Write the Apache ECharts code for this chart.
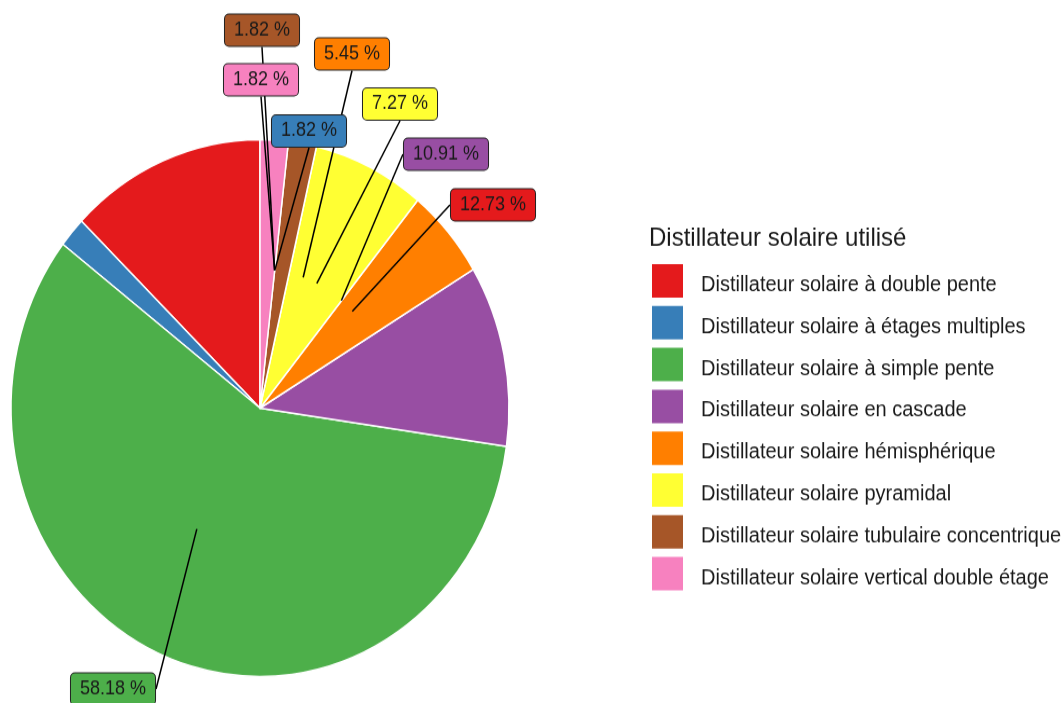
<!DOCTYPE html>
<html>
<head>
<meta charset="utf-8">
<script src="https://cdn.jsdelivr.net/npm/echarts@6/dist/echarts.min.js"></script>
<style>
  html { margin: 0; padding: 0; background: #fff; overflow: hidden; }
  body { margin: 0; padding: 0; background: #fff; width: 1063px; height: 703px; }
  #chart { width: 1063px; height: 652px; transform: scaleY(1.0782); transform-origin: 0 0; }
</style>
</head>
<body>
<div id="chart"></div>
<script>
// ---- data ----
const categories = [
  'Distillateur solaire à double pente',
  'Distillateur solaire à étages multiples',
  'Distillateur solaire à simple pente',
  'Distillateur solaire en cascade',
  'Distillateur solaire hémisphérique',
  'Distillateur solaire pyramidal',
  'Distillateur solaire tubulaire concentrique',
  'Distillateur solaire vertical double étage'
];
const percentages = [12.73, 1.82, 58.18, 10.91, 5.45, 7.27, 1.82, 1.82];
const legendTitle = 'Distillateur solaire utilisé';

// ---- styling / layout (not data) ----
const colors = ['#E41A1C', '#377EB8', '#4DAF4A', '#984EA3', '#FF7F00', '#FFFF33', '#A65628', '#F781BF'];
const FONT = '"Liberation Sans", Arial, sans-serif';
const CENTER = [260, 378.5];
const RADIUS = 249;
// repelled label box centres (px, unscaled)
const labelBoxes = [
  [493, 190], [309, 121.5], [113, 639], [446, 143],
  [352, 50], [400, 96.5], [262, 28], [261, 74]
];
const anchorRadius = 0.515;

const chart = echarts.init(document.getElementById('chart'), null, { renderer: 'canvas' });

const pieData = categories.map((c, i) => ({
  name: c, value: percentages[i], itemStyle: { color: colors[i] }
}));

const labelData = categories.map((c, i) => ({
  name: c,
  value: [anchorRadius, percentages[i]],
  label: { backgroundColor: colors[i] }
}));

chart.setOption({
  animation: false,
  backgroundColor: '#fff',
  title: {
    text: legendTitle,
    left: 649, top: 209, padding: 0,
    textStyle: { fontFamily: FONT, fontSize: 24, fontWeight: 'normal', color: '#1a1a1a' }
  },
  legend: {
    orient: 'vertical',
    left: 650, top: 243, padding: 0,
    itemWidth: 33, itemHeight: 33, itemGap: 3.8,
    icon: 'rect',
    selectedMode: false,
    data: categories,
    formatter: '{t|{name}}',
    textStyle: {
      fontFamily: FONT, fontSize: 20, color: '#1a1a1a',
      rich: { t: { fontFamily: FONT, fontSize: 20, lineHeight: 22, color: '#1a1a1a', padding: [8, 0, 0, 12] } }
    }
  },
  polar: { center: CENTER, radius: RADIUS },
  angleAxis: {
    type: 'value', min: 0, max: 100, startAngle: 90, clockwise: true,
    axisLine: { show: false }, axisTick: { show: false }, axisLabel: { show: false }, splitLine: { show: false }
  },
  radiusAxis: {
    type: 'value', min: 0, max: 1,
    axisLine: { show: false }, axisTick: { show: false }, axisLabel: { show: false }, splitLine: { show: false }
  },
  series: [
    {
      type: 'pie',
      center: CENTER,
      radius: RADIUS,
      startAngle: 90,
      clockwise: false,
      avoidLabelOverlap: false,
      label: { show: false },
      labelLine: { show: false },
      emphasis: { disabled: true },
      itemStyle: { borderColor: '#fff', borderWidth: 1.5 },
      data: pieData,
      z: 1
    },
    {
      type: 'scatter',
      coordinateSystem: 'polar',
      symbol: 'circle',
      symbolSize: 1,
      itemStyle: { color: 'rgba(0,0,0,0)', opacity: 1 },
      emphasis: { disabled: true },
      silent: true,
      z: 5,
      data: labelData,
      label: {
        show: true,
        formatter: p => p.value[1].toFixed(2) + ' %',
        fontFamily: FONT, fontSize: 18, color: '#1a1a1a',
        lineHeight: 20,
        padding: [5, 9, 4, 9],
        borderColor: '#222', borderWidth: 1, borderRadius: 4
      },
      labelLine: { show: true, lineStyle: { color: '#000', width: 1.5, opacity: 1 } },
      labelLayout: function (params) {
        const b = labelBoxes[params.dataIndex];
        return { x: b[0], y: b[1], align: 'center', verticalAlign: 'middle' };
      }
    }
  ]
});
</script>
</body>
</html>
